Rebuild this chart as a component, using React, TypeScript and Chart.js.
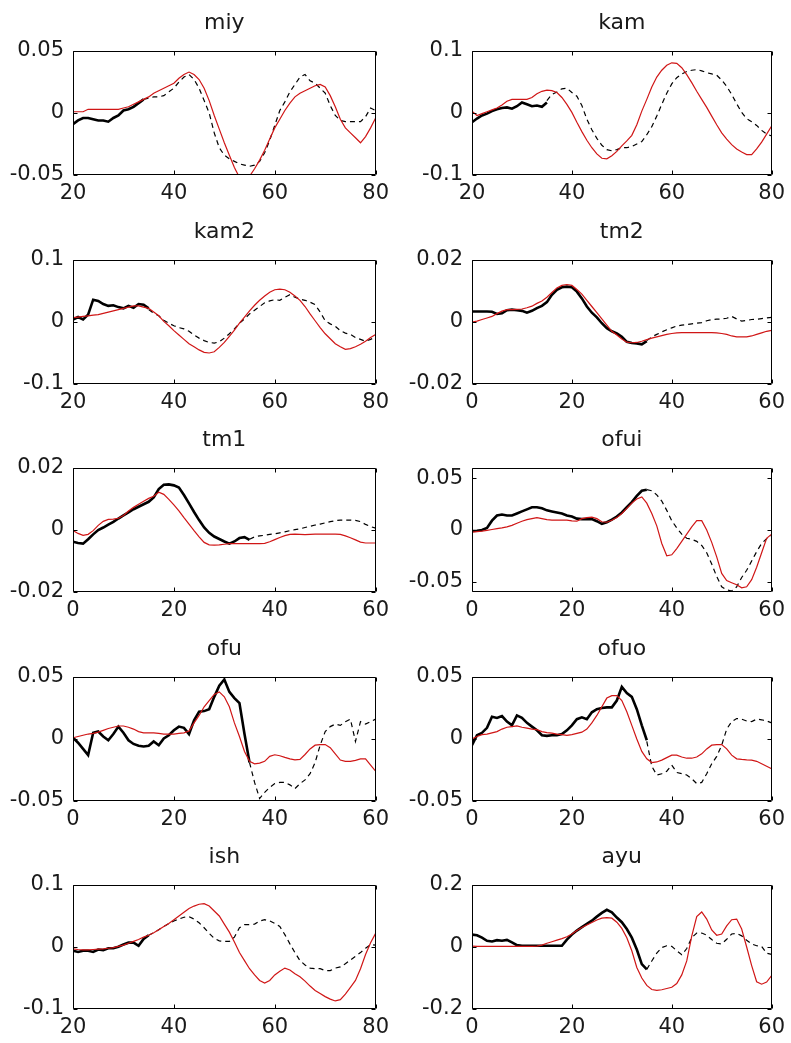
import React, { useEffect, useRef } from "react";
import { Chart, registerables } from "chart.js";

Chart.register(...registerables);

// ---------- tick values / labels ----------
const xTicksLate = [20, 40, 60, 80];
const xTicksEarly = [0, 20, 40, 60];
const yTicks005 = [-0.05, 0, 0.05];
const yLabels005 = ["-0.05", "0", "0.05"];
const yTicks01 = [-0.1, 0, 0.1];
const yLabels01 = ["-0.1", "0", "0.1"];
const yTicks002 = [-0.02, 0, 0.02];
const yLabels002 = ["-0.02", "0", "0.02"];
const yTicks02 = [-0.2, 0, 0.2];
const yLabels02 = ["-0.2", "0", "0.2"];

// ---------- miy (x 20..80) ----------
const miyModel = [0.001, 0.001, 0.001, 0.003, 0.003, 0.003, 0.003, 0.003, 0.003, 0.003,
  0.004, 0.005, 0.007, 0.009, 0.011, 0.013, 0.016, 0.018, 0.020, 0.022,
  0.024, 0.028, 0.031, 0.033, 0.031, 0.027, 0.020, 0.010, -0.002, -0.013,
  -0.024, -0.034, -0.044, -0.052, -0.056, -0.051, -0.045, -0.038, -0.030, -0.021,
  -0.012, -0.005, 0.002, 0.008, 0.013, 0.016, 0.018, 0.020, 0.022, 0.023,
  0.021, 0.014, 0.005, -0.005, -0.012, -0.016, -0.020, -0.024, -0.019, -0.012,
  -0.004];
const miyObs = [-0.009, -0.006, -0.004, -0.004, -0.005, -0.006, -0.006, -0.007, -0.004, -0.002,
  0.002, 0.003, 0.005, 0.008, 0.011];
const miyExt = [0.011, 0.012, 0.013, 0.013, 0.014, 0.017,
  0.020, 0.025, 0.029, 0.031, 0.027, 0.020, 0.010, 0.000, -0.016, -0.028,
  -0.034, -0.037, -0.039, -0.041, -0.042, -0.043, -0.042, -0.039, -0.032, -0.022,
  -0.010, 0.002, 0.009, 0.017, 0.023, 0.029, 0.031, 0.026, 0.024, 0.020,
  0.016, 0.006, -0.002, -0.006, -0.007, -0.007, -0.007, -0.007, -0.003, 0.004, 0.002];

// ---------- kam (x 20..80) ----------
const kamModel = [0.003, -0.004, -0.001, 0.002, 0.005, 0.008, 0.013, 0.019, 0.022, 0.022,
  0.022, 0.022, 0.025, 0.031, 0.035, 0.037, 0.036, 0.033, 0.025, 0.014,
  0.001, -0.015, -0.030, -0.044, -0.056, -0.066, -0.073, -0.074, -0.069, -0.062,
  -0.053, -0.045, -0.036, -0.019, 0.003, 0.022, 0.042, 0.058, 0.069, 0.077,
  0.081, 0.080, 0.073, 0.062, 0.049, 0.035, 0.022, 0.009, -0.005, -0.019,
  -0.032, -0.042, -0.051, -0.058, -0.063, -0.067, -0.067, -0.058, -0.047, -0.034, -0.021];
const kamObs = [-0.015, -0.009, -0.004, -0.001, 0.003, 0.006, 0.008, 0.009, 0.007, 0.011,
  0.017, 0.014, 0.011, 0.012, 0.010, 0.017];
const kamExt = [0.020, 0.030, 0.034, 0.039, 0.040,
  0.033, 0.027, 0.012, -0.010, -0.027, -0.041, -0.052, -0.059, -0.061, -0.059,
  -0.056, -0.056, -0.054, -0.050, -0.046, -0.035, -0.022, -0.005, 0.014, 0.032,
  0.047, 0.057, 0.063, 0.067, 0.069, 0.070, 0.068, 0.065, 0.063, 0.061,
  0.053, 0.043, 0.030, 0.015, 0.001, -0.009, -0.014, -0.020, -0.028, -0.034, -0.037];

// ---------- kam2 (x 20..80) ----------
const kam2Model = [0.007, 0.008, 0.009, 0.010, 0.011, 0.012, 0.014, 0.016, 0.018, 0.020,
  0.022, 0.024, 0.026, 0.026, 0.024, 0.022, 0.016, 0.010, 0.001, -0.006,
  -0.014, -0.021, -0.028, -0.035, -0.040, -0.045, -0.049, -0.050, -0.048, -0.041,
  -0.033, -0.023, -0.013, -0.002, 0.008, 0.018, 0.027, 0.035, 0.042, 0.048,
  0.052, 0.053, 0.052, 0.048, 0.042, 0.035, 0.025, 0.013, 0.002, -0.009,
  -0.019, -0.027, -0.035, -0.040, -0.044, -0.043, -0.040, -0.036, -0.031, -0.025, -0.020];
const kam2Obs = [0.004, 0.008, 0.004, 0.012, 0.036, 0.034, 0.029, 0.026, 0.027, 0.024,
  0.022, 0.026, 0.023, 0.029, 0.028, 0.022];
const kam2Ext = [0.020, 0.014, 0.010, 0.003, -0.002,
  -0.006, -0.009, -0.011, -0.015, -0.021, -0.026, -0.030, -0.033, -0.034, -0.032,
  -0.026, -0.019, -0.011, -0.002, 0.005, 0.013, 0.019, 0.025, 0.031, 0.034,
  0.036, 0.035, 0.040, 0.044, 0.040, 0.037, 0.035, 0.032, 0.028, 0.016,
  0.002, -0.003, -0.007, -0.014, -0.018, -0.020, -0.025, -0.028, -0.031, -0.028, -0.024];

// ---------- tm2 (x 0..60) ----------
const tm2Model = [0.000, 0.0003, 0.0008, 0.0013, 0.0018, 0.0027, 0.0035, 0.004, 0.004, 0.0041,
  0.0042, 0.0046, 0.0051, 0.006, 0.0068, 0.008, 0.0095, 0.011, 0.0118, 0.0121,
  0.0118, 0.0105, 0.009, 0.007, 0.005, 0.003, 0.001, -0.001, -0.003, -0.0042,
  -0.0055, -0.0065, -0.0067, -0.0066, -0.0062, -0.0057, -0.0052, -0.0048, -0.0044, -0.004,
  -0.0037, -0.0035, -0.0034, -0.0034, -0.0034, -0.0034, -0.0034, -0.0034, -0.0034, -0.0035,
  -0.0037, -0.004, -0.0045, -0.0048, -0.0048, -0.0048, -0.0045, -0.004, -0.0035, -0.003, -0.0027];
const tm2Obs = [0.0034, 0.0034, 0.0034, 0.0034, 0.0033, 0.0026, 0.0028, 0.0038, 0.004, 0.0038,
  0.0036, 0.003, 0.0036, 0.0045, 0.0052, 0.0064, 0.0088, 0.0104, 0.0112, 0.0114,
  0.0112, 0.0098, 0.0076, 0.005, 0.003, 0.0015, -0.0004, -0.002, -0.003, -0.0037,
  -0.0048, -0.0064, -0.0068, -0.0069, -0.0072, -0.0062];
const tm2Ext = [-0.006, -0.0048, -0.004, -0.0032, -0.0025,
  -0.0019, -0.0013, -0.001, -0.0008, -0.0006, -0.0004, -0.0002, 0.0004, 0.0008, 0.0009,
  0.001, 0.0012, 0.0018, 0.001, 0.0003, 0.0005, 0.0008, 0.0009, 0.0011, 0.0013, 0.0015];

// ---------- tm1 (x 0..60) ----------
const tm1Model = [-0.0002, -0.0011, -0.0017, -0.0014, -0.0002, 0.0015, 0.0028, 0.0034, 0.0035, 0.0038,
  0.0047, 0.0061, 0.0073, 0.0083, 0.0093, 0.0102, 0.0109, 0.0122, 0.0115, 0.0099,
  0.0081, 0.0062, 0.0040, 0.0019, -0.0002, -0.0022, -0.0040, -0.0048, -0.0049, -0.0048,
  -0.0046, -0.0044, -0.0044, -0.0044, -0.0044, -0.0044, -0.0044, -0.0044, -0.0043, -0.0038,
  -0.0031, -0.0024, -0.0018, -0.0014, -0.0013, -0.0014, -0.0015, -0.0014, -0.0013, -0.0013,
  -0.0013, -0.0013, -0.0013, -0.0014, -0.0019, -0.0025, -0.0032, -0.0039, -0.0042, -0.0042, -0.0042];
const tm1Obs = [-0.0038, -0.0042, -0.0044, -0.003, -0.0014, 0.0, 0.0008, 0.0017, 0.0026, 0.0037,
  0.0047, 0.0057, 0.0067, 0.0075, 0.0083, 0.0091, 0.0105, 0.0132, 0.0146, 0.0147,
  0.0144, 0.0137, 0.0113, 0.0086, 0.0058, 0.0032, 0.0008, -0.0009, -0.0021, -0.0029,
  -0.0037, -0.0044, -0.0037, -0.0026, -0.0023, -0.0032];
const tm1Ext = [-0.003, -0.0022, -0.0019, -0.0017, -0.0014,
  -0.0012, -0.0009, -0.0006, -0.0002, 0.0001, 0.0004, 0.0008, 0.0012, 0.0016, 0.0019,
  0.0023, 0.0027, 0.003, 0.0032, 0.0032, 0.0032, 0.0031, 0.0027, 0.0018, 0.0011, 0.0006];

// ---------- ofui (x 0..60) ----------
const ofuiModel = [-0.002, -0.0015, -0.001, -0.0003, 0.0005, 0.0013, 0.002, 0.003, 0.0045, 0.0065,
  0.0085, 0.010, 0.011, 0.012, 0.011, 0.010, 0.0095, 0.0095, 0.0095, 0.0095,
  0.0088, 0.0085, 0.011, 0.012, 0.0125, 0.011, 0.008, 0.0075, 0.0095, 0.012,
  0.016, 0.021, 0.026, 0.030, 0.032, 0.026, 0.016, 0.004, -0.013, -0.025,
  -0.024, -0.018, -0.011, -0.004, 0.003, 0.009, 0.009, 0.000, -0.012, -0.026,
  -0.042, -0.049, -0.051, -0.053, -0.056, -0.055, -0.048, -0.036, -0.022, -0.008, -0.004];
const ofuiObs = [-0.001, -0.0007, 0.0, 0.002, 0.009, 0.014, 0.015, 0.014, 0.014, 0.016,
  0.018, 0.020, 0.022, 0.022, 0.021, 0.019, 0.018, 0.017, 0.016, 0.014,
  0.013, 0.011, 0.0105, 0.0105, 0.0105, 0.0085, 0.006, 0.0075, 0.010, 0.013,
  0.017, 0.022, 0.027, 0.033, 0.038, 0.039];
const ofuiExt = [0.039, 0.038, 0.034, 0.028, 0.019,
  0.009, 0.002, -0.004, -0.008, -0.009, -0.011, -0.015, -0.022, -0.033, -0.045,
  -0.055, -0.058, -0.059, -0.055, -0.046, -0.039, -0.030, -0.021, -0.013, -0.0085, -0.005];

// ---------- ofu (x 0..60) ----------
const ofuModel = [0.001, 0.002, 0.003, 0.004, 0.0045, 0.0055, 0.007, 0.0085, 0.0095, 0.0105,
  0.0105, 0.0095, 0.008, 0.006, 0.005, 0.005, 0.005, 0.0045, 0.004, 0.004,
  0.004, 0.0045, 0.005, 0.0065, 0.013, 0.019, 0.026, 0.031, 0.036, 0.038,
  0.034, 0.026, 0.013, 0.002, -0.010, -0.018, -0.020, -0.0195, -0.018, -0.014,
  -0.0127, -0.0135, -0.0148, -0.016, -0.0168, -0.0165, -0.0125, -0.008, -0.005, -0.0045,
  -0.0045, -0.007, -0.012, -0.017, -0.018, -0.018, -0.0172, -0.016, -0.016, -0.021, -0.026];
const ofuObs = [0.001, -0.003, -0.008, -0.013, 0.005, 0.006, 0.002, -0.001, 0.004, 0.010,
  0.005, -0.001, -0.004, -0.0055, -0.006, -0.0055, -0.002, -0.005, 0.0005, 0.003,
  0.007, 0.010, 0.009, 0.004, 0.015, 0.022, 0.0225, 0.024, 0.034, 0.043,
  0.048, 0.038, 0.033, 0.029, 0.004, -0.019];
const ofuExt = [-0.019, -0.035, -0.048, -0.043, -0.039,
  -0.036, -0.035, -0.035, -0.037, -0.040, -0.036, -0.033, -0.028, -0.019, -0.005,
  0.006, 0.010, 0.012, 0.011, 0.014, 0.016, -0.002, 0.014, 0.012, 0.014, 0.016];

// ---------- ofuo (x 0..60) ----------
const ofuoModel = [0.0, 0.002, 0.0035, 0.004, 0.005, 0.006, 0.008, 0.0095, 0.010, 0.0105,
  0.0095, 0.0088, 0.008, 0.0075, 0.006, 0.0052, 0.0048, 0.004, 0.0035, 0.003,
  0.0035, 0.0045, 0.0055, 0.008, 0.013, 0.019, 0.026, 0.033, 0.035, 0.035,
  0.031, 0.022, 0.011, 0.000, -0.010, -0.016, -0.019, -0.0185, -0.017, -0.015,
  -0.013, -0.013, -0.0145, -0.0155, -0.0155, -0.0145, -0.012, -0.008, -0.005, -0.0045,
  -0.0045, -0.008, -0.013, -0.016, -0.0165, -0.0168, -0.017, -0.018, -0.020, -0.022, -0.024];
const ofuoObs = [-0.005, 0.003, 0.005, 0.009, 0.018, 0.017, 0.0185, 0.014, 0.011, 0.019,
  0.017, 0.013, 0.010, 0.007, 0.003, 0.0025, 0.003, 0.003, 0.004, 0.007,
  0.011, 0.016, 0.0175, 0.016, 0.0215, 0.024, 0.025, 0.0255, 0.0255, 0.031,
  0.042, 0.037, 0.034, 0.024, 0.011, -0.001];
const ofuoExt = [-0.002, -0.022, -0.029, -0.028, -0.026,
  -0.021, -0.027, -0.028, -0.029, -0.032, -0.036, -0.035, -0.028, -0.020, -0.014,
  -0.005, 0.008, 0.014, 0.0165, 0.016, 0.0145, 0.014, 0.016, 0.0155, 0.0145, 0.013];

// ---------- ish (x 20..80) ----------
const ishModel = [-0.003, -0.004, -0.0045, -0.0045, -0.004, -0.0035, -0.003, -0.002, -0.001, 0.001,
  0.003, 0.006, 0.009, 0.012, 0.016, 0.019, 0.023, 0.028, 0.033, 0.038,
  0.044, 0.050, 0.056, 0.062, 0.066, 0.069, 0.070, 0.066, 0.058, 0.050,
  0.037, 0.024, 0.008, -0.009, -0.022, -0.035, -0.045, -0.054, -0.058, -0.054,
  -0.045, -0.039, -0.034, -0.037, -0.043, -0.048, -0.055, -0.063, -0.070, -0.075,
  -0.080, -0.084, -0.087, -0.085, -0.076, -0.065, -0.054, -0.035, -0.012, 0.007, 0.022];
const ishObs = [-0.006, -0.008, -0.006, -0.006, -0.008, -0.004, -0.005, -0.002, -0.002, 0.0005,
  0.004, 0.007, 0.007, 0.002, 0.013, 0.019];
const ishExt = [0.019, 0.023, 0.028, 0.033, 0.038,
  0.042, 0.045, 0.048, 0.049, 0.045, 0.039, 0.031, 0.022, 0.014, 0.010,
  0.009, 0.009, 0.016, 0.031, 0.036, 0.036, 0.037, 0.042, 0.044, 0.042,
  0.038, 0.033, 0.020, 0.005, -0.009, -0.022, -0.029, -0.034, -0.035, -0.035,
  -0.038, -0.038, -0.034, -0.032, -0.027, -0.021, -0.015, -0.009, -0.002, 0.004, 0.003];

// ---------- ayu (x 0..60) ----------
const ayuModel = [0.003, 0.002, 0.002, 0.002, 0.002, 0.002, 0.002, 0.002, 0.002, 0.002,
  0.002, 0.002, 0.002, 0.003, 0.006, 0.012, 0.017, 0.022, 0.027, 0.033,
  0.042, 0.053, 0.063, 0.071, 0.079, 0.087, 0.093, 0.095, 0.093, 0.080,
  0.060, 0.030, -0.012, -0.066, -0.100, -0.124, -0.137, -0.140, -0.138, -0.134,
  -0.130, -0.118, -0.090, -0.045, 0.035, 0.098, 0.113, 0.090, 0.055, 0.038,
  0.042, 0.068, 0.088, 0.090, 0.058, 0.000, -0.060, -0.112, -0.120, -0.113, -0.092];
const ayuObs = [0.040, 0.038, 0.030, 0.020, 0.018, 0.022, 0.020, 0.023, 0.015, 0.006,
  0.004, 0.004, 0.004, 0.004, 0.004, 0.004, 0.004, 0.004, 0.004, 0.024,
  0.040, 0.053, 0.064, 0.075, 0.085, 0.098, 0.110, 0.120, 0.112, 0.095,
  0.080, 0.058, 0.030, -0.008, -0.055, -0.072];
const ayuExt = [-0.072, -0.045, -0.020, -0.002, 0.004,
  0.002, -0.012, -0.025, -0.005, 0.030, 0.045, 0.045, 0.038, 0.024, 0.012,
  0.010, 0.025, 0.042, 0.044, 0.036, 0.022, 0.010, 0.004, 0.002, -0.020, -0.024];

// ---------- panel table ----------
const PANELS = [
  { title: "miy", col: 0, row: 0, xr: [20, 80], xt: xTicksLate, yr: [-0.05, 0.05], yt: yTicks005, yl: yLabels005, model: miyModel, m0: 20, obs: miyObs, o0: 20, ext: miyExt, e0: 34 },
  { title: "kam", col: 1, row: 0, xr: [20, 80], xt: xTicksLate, yr: [-0.1, 0.1], yt: yTicks01, yl: yLabels01, model: kamModel, m0: 20, obs: kamObs, o0: 20, ext: kamExt, e0: 35 },
  { title: "kam2", col: 0, row: 1, xr: [20, 80], xt: xTicksLate, yr: [-0.1, 0.1], yt: yTicks01, yl: yLabels01, model: kam2Model, m0: 20, obs: kam2Obs, o0: 20, ext: kam2Ext, e0: 35 },
  { title: "tm2", col: 1, row: 1, xr: [0, 60], xt: xTicksEarly, yr: [-0.02, 0.02], yt: yTicks002, yl: yLabels002, model: tm2Model, m0: 0, obs: tm2Obs, o0: 0, ext: tm2Ext, e0: 35 },
  { title: "tm1", col: 0, row: 2, xr: [0, 60], xt: xTicksEarly, yr: [-0.02, 0.02], yt: yTicks002, yl: yLabels002, model: tm1Model, m0: 0, obs: tm1Obs, o0: 0, ext: tm1Ext, e0: 35 },
  { title: "ofui", col: 1, row: 2, xr: [0, 60], xt: xTicksEarly, yr: [-0.06, 0.06], yt: yTicks005, yl: yLabels005, model: ofuiModel, m0: 0, obs: ofuiObs, o0: 0, ext: ofuiExt, e0: 35 },
  { title: "ofu", col: 0, row: 3, xr: [0, 60], xt: xTicksEarly, yr: [-0.05, 0.05], yt: yTicks005, yl: yLabels005, model: ofuModel, m0: 0, obs: ofuObs, o0: 0, ext: ofuExt, e0: 35 },
  { title: "ofuo", col: 1, row: 3, xr: [0, 60], xt: xTicksEarly, yr: [-0.05, 0.05], yt: yTicks005, yl: yLabels005, model: ofuoModel, m0: 0, obs: ofuoObs, o0: 0, ext: ofuoExt, e0: 35 },
  { title: "ish", col: 0, row: 4, xr: [20, 80], xt: xTicksLate, yr: [-0.1, 0.1], yt: yTicks01, yl: yLabels01, model: ishModel, m0: 20, obs: ishObs, o0: 20, ext: ishExt, e0: 35 },
  { title: "ayu", col: 1, row: 4, xr: [0, 60], xt: xTicksEarly, yr: [-0.2, 0.2], yt: yTicks02, yl: yLabels02, model: ayuModel, m0: 0, obs: ayuObs, o0: 0, ext: ayuExt, e0: 35 },
];

// ---------- layout ----------
const COL_LEFT = [73, 472];
const COL_W = [304, 301];
const ROW_TOP = [51, 260, 468, 677, 885];
const PLOT_H = 124;
const Y_AXIS_W = 73;
const RIGHT_PAD = 18;
const TITLE_LH = 26;
const TITLE_PAD = 15;
const X_AXIS_H = 40;
const FONT = "'DejaVu Sans', 'Liberation Sans', Arial, sans-serif";
const TEXT = "#1a1a1a";

const toPoints = (x0: number, ys: number[]) => ys.map((y, i) => ({ x: x0 + i, y }));

const boxPlugin = {
  id: "matlabBox",
  afterDatasetsDraw(chart: any) {
    const { ctx, chartArea: a, scales } = chart;
    const xs = scales.x;
    const ys = scales.y;
    const L = Math.round(a.left) + 0.5;
    const R = Math.round(a.right) - 0.5;
    const T = Math.round(a.top) + 0.5;
    const B = Math.round(a.bottom) - 0.5;
    const tl = 4;
    ctx.save();
    ctx.strokeStyle = "#000";
    ctx.lineWidth = 1;
    ctx.setLineDash([]);
    ctx.beginPath();
    ctx.rect(L, T, R - L, B - T);
    xs.ticks.forEach((t: any) => {
      const px = Math.round(xs.getPixelForValue(t.value)) + 0.5;
      ctx.moveTo(px, B);
      ctx.lineTo(px, B - tl);
      ctx.moveTo(px, T);
      ctx.lineTo(px, T + tl);
    });
    ys.ticks.forEach((t: any) => {
      const py = Math.round(ys.getPixelForValue(t.value)) + 0.5;
      ctx.moveTo(L, py);
      ctx.lineTo(L + tl, py);
      ctx.moveTo(R, py);
      ctx.lineTo(R - tl, py);
    });
    ctx.stroke();
    ctx.restore();
  },
};

function makeConfig(p: any) {
  return {
    type: "line",
    data: {
      datasets: [
        {
          data: toPoints(p.m0, p.model),
          borderColor: "rgb(208, 22, 22)",
          borderWidth: 1.2,
          pointRadius: 0,
          tension: 0,
        },
        {
          data: toPoints(p.o0, p.obs),
          borderColor: "#000",
          borderWidth: 2.6,
          pointRadius: 0,
          tension: 0,
        },
        {
          data: toPoints(p.e0, p.ext),
          borderColor: "#000",
          borderWidth: 1.2,
          borderDash: [5, 4],
          pointRadius: 0,
          tension: 0,
        },
      ],
    },
    options: {
      responsive: false,
      animation: false,
      devicePixelRatio: 1,
      events: [],
      layout: { padding: { left: 0, right: RIGHT_PAD, top: 0, bottom: 0 } },
      plugins: {
        legend: { display: false },
        tooltip: { enabled: false },
        title: {
          display: true,
          text: p.title,
          fullSize: false,
          color: TEXT,
          font: { family: FONT, size: 22, weight: "normal", lineHeight: TITLE_LH + "px" },
          padding: { top: 0, bottom: TITLE_PAD },
        },
      },
      scales: {
        x: {
          type: "linear",
          min: p.xr[0],
          max: p.xr[1],
          grid: { display: false, drawTicks: false },
          border: { display: false },
          afterBuildTicks: (s: any) => {
            s.ticks = p.xt.map((v: number) => ({ value: v }));
          },
          afterFit: (s: any) => {
            s.height = X_AXIS_H;
          },
          ticks: {
            color: TEXT,
            padding: 6,
            maxRotation: 0,
            autoSkip: false,
            font: { family: FONT, size: 21 },
            callback: (v: any) => String(v),
          },
        },
        y: {
          type: "linear",
          min: p.yr[0],
          max: p.yr[1],
          grid: { display: false, drawTicks: false },
          border: { display: false },
          afterBuildTicks: (s: any) => {
            s.ticks = p.yt.map((v: number) => ({ value: v }));
          },
          afterFit: (s: any) => {
            s.width = Y_AXIS_W;
          },
          ticks: {
            color: TEXT,
            padding: 9,
            autoSkip: false,
            font: { family: FONT, size: 21 },
            callback: (_v: any, i: number) => p.yl[i],
          },
        },
      },
    },
    plugins: [boxPlugin],
  };
}

export default function App() {
  const refs = useRef<(HTMLCanvasElement | null)[]>([]);

  useEffect(() => {
    const charts = PANELS.map((p, i) => new Chart(refs.current[i] as HTMLCanvasElement, makeConfig(p) as any));
    return () => charts.forEach((c) => c.destroy());
  }, []);

  return (
    <div style={{ position: "absolute", left: 0, top: 0, width: 791, height: 1043, background: "#fff" }}>
      {PANELS.map((p, i) => {
        const w = Y_AXIS_W + COL_W[p.col] + RIGHT_PAD;
        const h = TITLE_LH + TITLE_PAD + PLOT_H + X_AXIS_H;
        return (
          <canvas
            key={p.title}
            ref={(el) => {
              refs.current[i] = el;
            }}
            width={w}
            height={h}
            style={{
              position: "absolute",
              left: COL_LEFT[p.col] - Y_AXIS_W,
              top: ROW_TOP[p.row] - TITLE_LH - TITLE_PAD,
              width: w,
              height: h,
            }}
          />
        );
      })}
    </div>
  );
}
